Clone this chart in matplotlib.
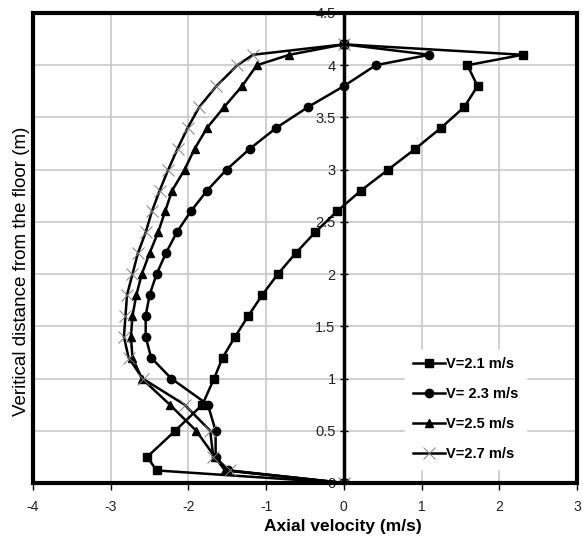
import matplotlib.pyplot as plt
from matplotlib.patches import Rectangle

plt.rcParams['font.family'] = ['Liberation Sans', 'DejaVu Sans']
plt.rcParams['axes.unicode_minus'] = False

# heights above the floor (m), same for every run
heights = [0, 0.12, 0.25, 0.5, 0.75, 1.0, 1.2, 1.4, 1.6, 1.8, 2.0, 2.2,
           2.4, 2.6, 2.8, 3.0, 3.2, 3.4, 3.6, 3.8, 4.0, 4.1, 4.2]

# axial velocity (m/s) for each inlet speed
v21 = [0, -2.41, -2.53, -2.17, -1.82, -1.67, -1.56, -1.40, -1.23, -1.05, -0.85,
       -0.62, -0.37, -0.09, 0.22, 0.57, 0.92, 1.25, 1.55, 1.72, 1.59, 2.30, 0]
v23 = [0, -1.49, -1.65, -1.65, -1.75, -2.22, -2.48, -2.55, -2.55, -2.50, -2.41,
       -2.29, -2.15, -1.97, -1.76, -1.51, -1.21, -0.87, -0.46, 0.0, 0.41, 1.10, 0]
v25 = [0, -1.53, -1.66, -1.90, -2.24, -2.60, -2.72, -2.74, -2.72, -2.67, -2.60,
       -2.50, -2.39, -2.30, -2.21, -2.05, -1.92, -1.76, -1.54, -1.31, -1.12, -0.70, 0]
v27 = [0, -1.47, -1.68, -1.72, -2.05, -2.59, -2.77, -2.83, -2.81, -2.79, -2.72,
       -2.65, -2.55, -2.47, -2.37, -2.26, -2.14, -2.01, -1.86, -1.64, -1.37, -1.17, 0]

labels = ['V=2.1 m/s', 'V= 2.3 m/s', 'V=2.5 m/s', 'V=2.7 m/s']
xticks = [-4, -3, -2, -1, 0, 1, 2, 3]
yticks = [0, 0.5, 1, 1.5, 2, 2.5, 3, 3.5, 4, 4.5]

fig = plt.figure(figsize=(5.83, 5.37), dpi=100)
ax = fig.add_axes([0.0566, 0.1006, 0.9331, 0.8752])

lw = 1.8
ax.plot(v21, heights, color='black', lw=lw, marker='s', ms=6, label=labels[0], zorder=3)
ax.plot(v23, heights, color='black', lw=lw, marker='o', ms=6, label=labels[1], zorder=3)
ax.plot(v25, heights, color='black', lw=lw, marker='^', ms=6, label=labels[2], zorder=3)
ax.plot(v27, heights, color='black', lw=lw, marker='x', ms=8, mec='#808080', mew=0.7,
        label=labels[3], zorder=3)

ax.set_xlim(-4, 3)
ax.set_ylim(0, 4.5)
ax.set_xticks(xticks)
ax.set_xticklabels([str(t) for t in xticks])
ax.set_yticks(yticks)
ax.set_yticklabels(['%g' % t for t in yticks])
ax.grid(True, color='#c8c8c8', lw=1.2, zorder=0)
ax.set_axisbelow(True)

# y axis sits at x = 0, frame drawn separately
for s in ['top', 'right', 'bottom']:
    ax.spines[s].set_visible(False)
ax.spines['left'].set_position(('data', 0))
ax.spines['left'].set_linewidth(2.5)
ax.spines['left'].set_zorder(4)
ax.add_patch(Rectangle((0, 0), 1, 1, transform=ax.transAxes, fill=False,
                       lw=3, ec='black', clip_on=False, zorder=7))

ax.tick_params(axis='y', direction='inout', length=6, width=1, labelsize=10.5,
               labelcolor='#222222', pad=3)
ax.tick_params(axis='x', direction='out', length=5, width=1, labelsize=10,
               labelcolor='#222222', pad=7)

ax.set_xlabel('Axial velocity (m/s)', fontsize=12.5, fontweight='bold')
ax.xaxis.set_label_coords(0.57, -0.077)
fig.text(0.037, 0.495, 'Veritical distance from the floor (m)', rotation=90,
         fontsize=13.5, ha='center', va='center')

leg = ax.legend(loc='lower left', bbox_to_anchor=(0.671, 0.015), frameon=True,
                fancybox=False, edgecolor='white', facecolor='white', framealpha=1,
                prop={'weight': 'bold', 'size': 10.5}, handlelength=2.2,
                handletextpad=0.1, labelspacing=1.1, borderpad=0.5)
leg.set_zorder(6)

fig.savefig('out.png', dpi=100)
